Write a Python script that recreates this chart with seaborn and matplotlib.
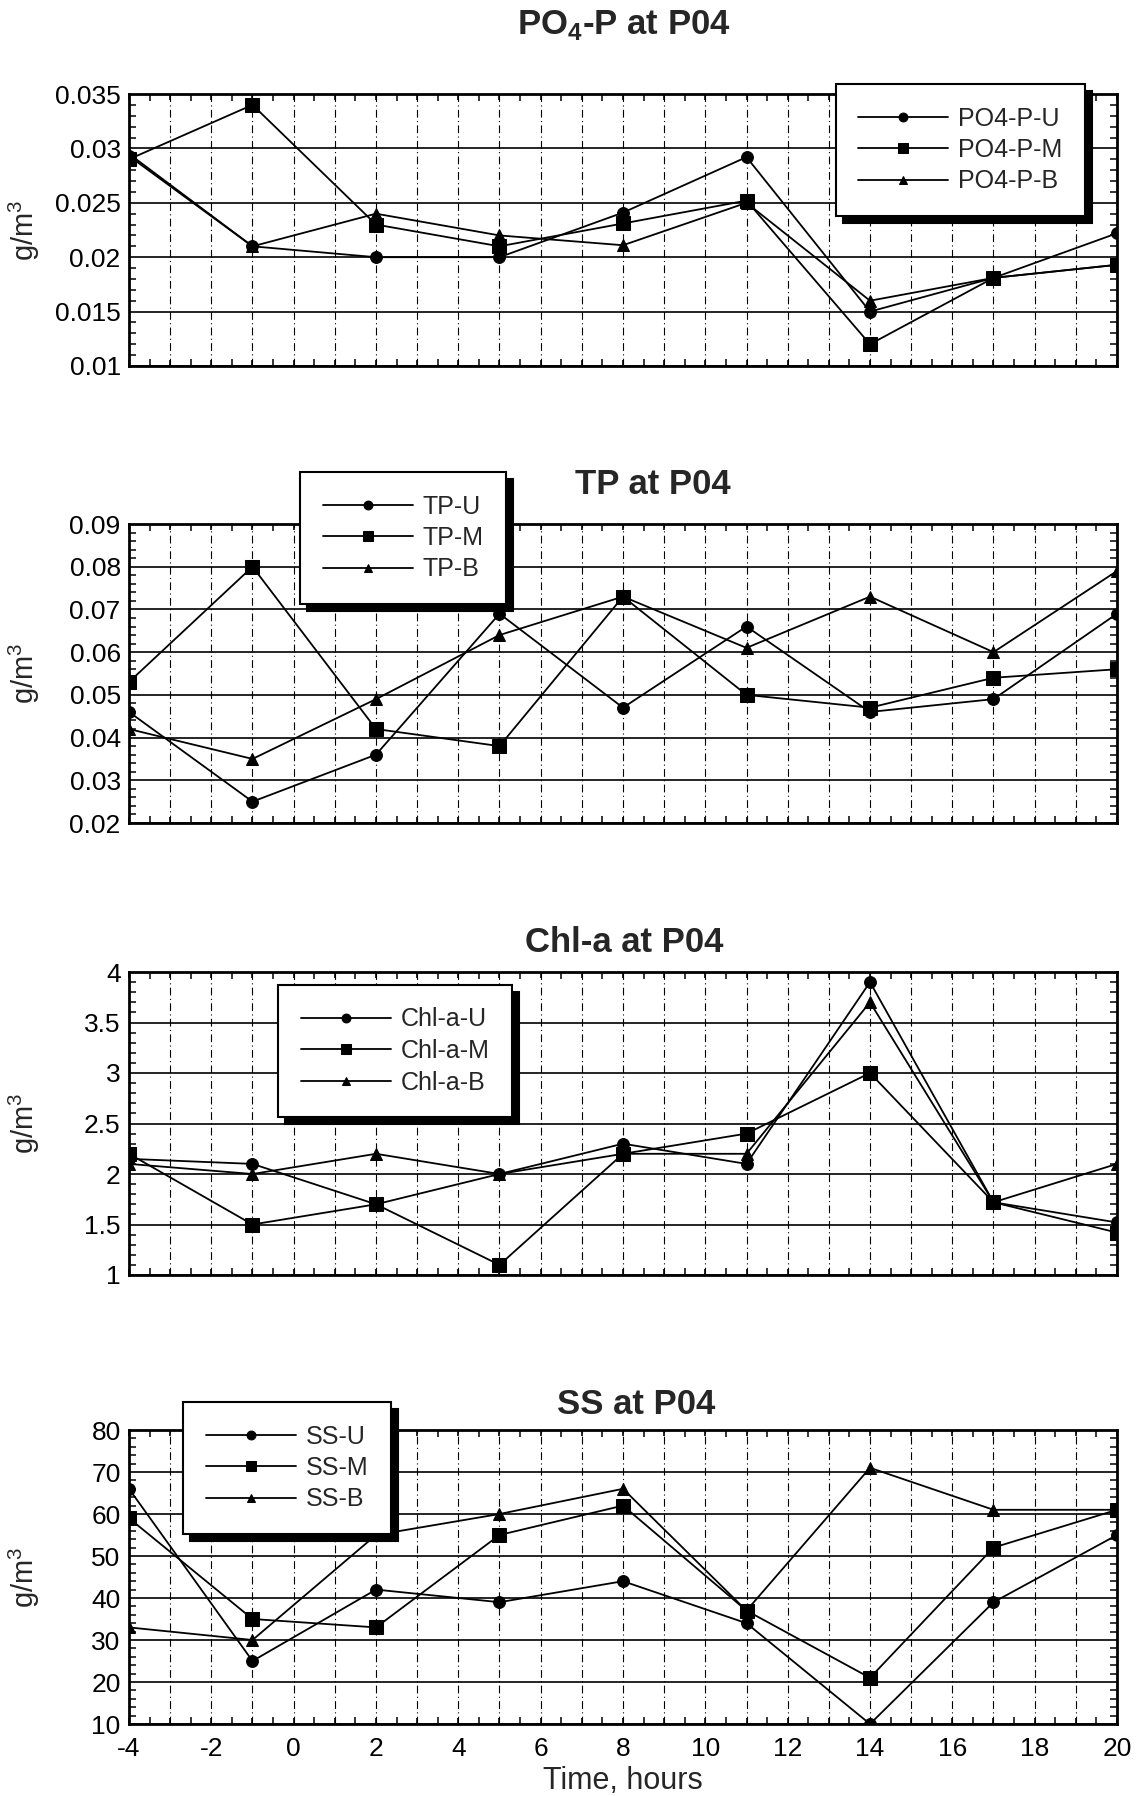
import numpy as np
import pandas as pd
import matplotlib
matplotlib.use("Agg")
import matplotlib.pyplot as plt
from matplotlib.ticker import MultipleLocator, FuncFormatter
import seaborn as sns

# ---------------- data ----------------
hours = [-4, -1, 2, 5, 8, 11, 14, 17, 20]

po4_u = [0.0293, 0.0210, 0.0200, 0.0200, 0.0241, 0.0292, 0.0150, 0.0181, 0.0222]
po4_m = [0.0290, 0.0340, 0.0230, 0.0210, 0.0231, 0.0252, 0.0120, 0.0181, 0.0193]
po4_b = [0.0295, 0.0210, 0.0240, 0.0220, 0.0211, 0.0250, 0.0160, 0.0181, 0.0193]

tp_u = [0.046, 0.025, 0.036, 0.069, 0.047, 0.066, 0.046, 0.049, 0.069]
tp_m = [0.053, 0.080, 0.042, 0.038, 0.073, 0.050, 0.047, 0.054, 0.056]
tp_b = [0.042, 0.035, 0.049, 0.064, 0.073, 0.061, 0.073, 0.060, 0.079]

chl_u = [2.15, 2.10, 1.70, 2.00, 2.30, 2.10, 3.90, 1.72, 1.52]
chl_m = [2.20, 1.50, 1.70, 1.10, 2.20, 2.40, 3.00, 1.72, 1.42]
chl_b = [2.10, 2.00, 2.20, 2.00, 2.20, 2.20, 3.70, 1.72, 2.10]

ss_u = [66, 25, 42, 39, 44, 34, 10, 39, 55]
ss_m = [59, 35, 33, 55, 62, 37, 21, 52, 61]
ss_b = [33, 30, 55, 60, 66, 37, 71, 61, 61]

panels = [
    ("PO$_\\mathbf{4}$-P at P04", ["PO4-P-U", "PO4-P-M", "PO4-P-B"], [po4_u, po4_m, po4_b],
     (0.01, 0.035), 0.005, 0.001),
    ("TP at P04", ["TP-U", "TP-M", "TP-B"], [tp_u, tp_m, tp_b],
     (0.02, 0.09), 0.01, 0.002),
    ("Chl-a at P04", ["Chl-a-U", "Chl-a-M", "Chl-a-B"], [chl_u, chl_m, chl_b],
     (1, 4), 0.5, 0.1),
    ("SS at P04", ["SS-U", "SS-M", "SS-B"], [ss_u, ss_m, ss_b],
     (10, 80), 10, 2),
]

# ---------------- style ----------------
sns.set_theme(style="ticks")
plt.rcParams["font.family"] = ["Liberation Sans", "DejaVu Sans"]
plt.rcParams["mathtext.fontset"] = "custom"
plt.rcParams["mathtext.rm"] = "Liberation Sans"
plt.rcParams["mathtext.bf"] = "Liberation Sans:bold"

W, H = 1140, 1796
fig = plt.figure(figsize=(W / 100, H / 100), dpi=100)

def fx(px):
    return px / W

def fy(py):
    return 1 - py / H

# axes boxes in pixels: (top, bottom)
left_px, right_px = 129, 1117
boxes = [(94, 366), (524, 823), (972, 1275), (1430, 1724)]
title_pos = [(624, 25), (653, 485), (624, 943), (636, 1405)]
legend_pos = [(836, 84), (300, 472), (278, 985), (183, 1402)]

markers = ["o", "s", "^"]
msizes = [8.5, 9.5, 8]

for i, (title, names, series, ylim, major, minor) in enumerate(panels):
    top, bot = boxes[i]
    ax = fig.add_axes([fx(left_px), fy(bot), fx(right_px - left_px), (bot - top) / H])
    for name, vals, mk, ms in zip(names, series, markers, msizes):
        sns.lineplot(x=hours, y=vals, ax=ax, color="black", marker=mk, markersize=ms,
                     markeredgecolor="black", linewidth=1.3, label=name)
    ax.set_xlim(-4, 20)
    ax.set_ylim(*ylim)
    ax.xaxis.set_major_locator(MultipleLocator(1))
    ax.xaxis.set_minor_locator(MultipleLocator(0.5))
    ax.yaxis.set_major_locator(MultipleLocator(major))
    ax.yaxis.set_minor_locator(MultipleLocator(minor))
    ax.yaxis.set_major_formatter(FuncFormatter(lambda v, p: "%g" % round(v, 6)))
    if i == 3:
        ax.xaxis.set_major_formatter(
            FuncFormatter(lambda v, p: ("%d" % v) if int(round(v)) % 2 == 0 else ""))
        ax.set_xlabel("Time, hours", fontsize=22, labelpad=4)
    else:
        ax.xaxis.set_major_formatter(FuncFormatter(lambda v, p: ""))
        ax.set_xlabel("")
    ax.tick_params(which="both", direction="in", top=True, right=True, colors="black",
                   labelsize=19)
    ax.tick_params(which="major", length=7, width=1.2)
    ax.tick_params(which="minor", length=5, width=1.1)
    ax.tick_params(axis="x", which="major", length=4, pad=9)
    ax.tick_params(axis="y", which="major", length=0, pad=6)
    ax.grid(False)
    ax.yaxis.grid(True, which="major", color="black", linewidth=1.2, linestyle="-")
    ax.xaxis.grid(True, which="major", color="black", linewidth=0.8, linestyle=(0, (7, 3, 1, 3)))
    ax.set_axisbelow(True)
    for s in ax.spines.values():
        s.set_color("black")
        s.set_linewidth(2.0)
    ax.set_ylabel("g/m$^3$", fontsize=21)
    ax.yaxis.set_label_coords(-0.088, 0.5)

    lx, ly = legend_pos[i]
    leg = ax.legend(loc="upper left", bbox_to_anchor=(fx(lx), fy(ly)),
                    bbox_transform=fig.transFigure, frameon=True, fancybox=False,
                    fontsize=18, handlelength=3.6, handletextpad=0.4,
                    borderpad=0.9, labelspacing=0.3, borderaxespad=0,
                    shadow={"color": "black", "alpha": 1, "ox": 5, "oy": -5},
                    markerscale=0.75)
    frame = leg.get_frame()
    frame.set_edgecolor("black")
    frame.set_linewidth(1.5)
    frame.set_facecolor("white")
    frame.set_alpha(1)
    leg.set_zorder(10)

    tx, ty = title_pos[i]
    fig.text(fx(tx), fy(ty), title, ha="center", va="center", fontsize=25,
             fontweight="bold")

fig.savefig("out.png", dpi=100)
